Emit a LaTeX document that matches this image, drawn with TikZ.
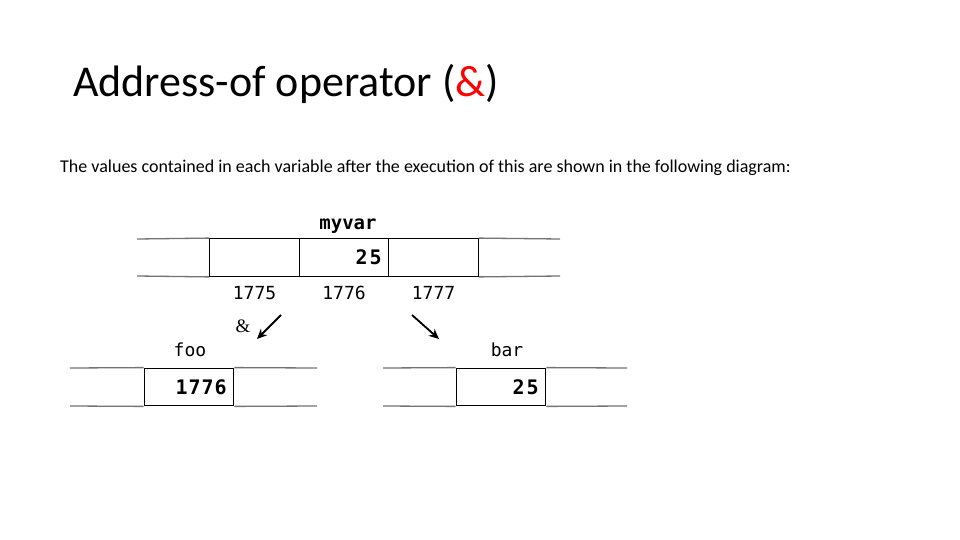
\documentclass[tikz,border=0pt]{standalone}
\usepackage{fontspec}
\setmainfont{Carlito}
\newfontfamily\memfont{DejaVu Sans Mono}
\newfontfamily\ampfont{Liberation Serif}
\usetikzlibrary{positioning}
\usetikzlibrary{arrows.meta}

\begin{document}
\begin{tikzpicture}[x=1pt,y=-1pt]
        \useasboundingbox[fill=white] (0,0) rectangle (960,540);

        \node[anchor=base west,inner sep=0,font=\fontsize{44}{48}\selectfont] (title) at (73,97)
            {Address-of operator ({\color{red}\&})};
        \node[anchor=base west,inner sep=0,font=\fontsize{18}{20}\selectfont] (intro) at (60,172)
            {The values contained in each variable after the execution of this are shown in the following diagram:};

        \begin{scope}[every node/.style={draw=black,line width=1.3pt,minimum height=37.5pt,
                inner xsep=7pt,text width=75.5pt,align=right,
                font=\memfont\bfseries\fontsize{20}{22}\selectfont}]
            \node (m1775) at (254.5,257.5) {};
            \node (m1776) at (344,257.5) {2\kern2pt5};
            \node (m1777) at (433.5,257.5) {};
            \node (foocell) at (189,387) {1\kern1pt7\kern1pt7\kern1pt6};
            \node (barcell) at (501,387) {2\kern2pt5};
        \end{scope}

        \begin{scope}[every path/.style={draw=black!55,line width=1.3pt}]
            \path (m1775.north west) -- (137,239);
            \path (m1775.south west) -- (137,276);
            \path (m1777.north east) -- (560,239);
            \path (m1777.south east) -- (560,276);
            \path (foocell.north west) -- (70,368);
            \path (foocell.south west) -- (70,406);
            \path (foocell.north east) -- (317,368);
            \path (foocell.south east) -- (317,406);
            \path (barcell.north west) -- (383,368);
            \path (barcell.south west) -- (383,406);
            \path (barcell.north east) -- (627,368);
            \path (barcell.south east) -- (627,406);
        \end{scope}

        \begin{scope}[every node/.style={inner sep=0,font=\memfont\fontsize{18}{20}\selectfont}]
            \node[below=9pt of m1775] (a1775) {1775};
            \node[below=9pt of m1776] (a1776) {1776};
            \node[below=9pt of m1777] (a1777) {1777};
            \node[font=\memfont\bfseries\fontsize{19}{20}\selectfont] (myvar) at (348,226) {myvar};
            \node (foo) at (190,350) {foo};
            \node (bar) at (507,350) {bar};
        \end{scope}

        \node[inner sep=0,font=\ampfont\fontsize{19}{20}\selectfont] (amp) at (243,326) {\&};

        \coordinate (refstart) at (281,315);
        \coordinate (refend) at (257,339);
        \coordinate (valstart) at (412,315);
        \coordinate (valend) at (439,339);

        \begin{scope}[>={Stealth[black,length=10pt,width=9pt]},
            every edge/.style={draw=black,line width=1.8pt}]
            \path [->] (refstart) edge (refend);
            \path [->] (valstart) edge (valend);
        \end{scope}
    \end{tikzpicture}
\end{document}
